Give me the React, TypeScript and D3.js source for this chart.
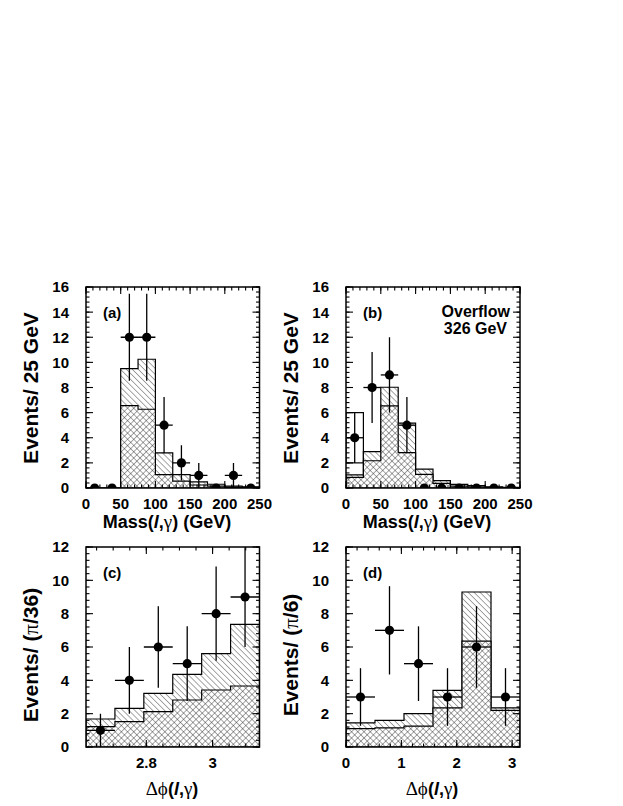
import React, { useEffect, useRef } from 'react';
import * as d3 from 'd3';

const W = 623;
const H = 806;
const PI = Math.PI;

// mass(l,gamma) bins, 25 GeV wide
const massBins = [0, 25, 50, 75, 100, 125, 150, 175, 200, 225];
const massTicks = [0, 50, 100, 150, 200, 250];

// panel (a)
const aData = [0, 0, 12, 12, 5, 2, 1, 0, 1, 0];
const aErr = [0, 0, 3.46, 3.46, 2.24, 1.41, 1, 0, 1, 0];
const aHatch = [0, 0, 9.5, 10.25, 2.8, 1.06, 0.48, 0.3, 0.15, 0.1];
const aCross = [0, 0, 6.55, 6.27, 1.06, 0.55, 0.24, 0.15, 0.08, 0.05];

// panel (b)
const bData = [4, 8, 9, 5, 0, 0, 0, 0, 0, 0];
const bErr = [2, 2.83, 3, 2.24, 0, 0, 0, 0, 0, 0];
const bHatch = [1.05, 2.9, 8.02, 5.17, 1.51, 0.58, 0.29, 0.2, 0.1, 0.05];
const bCross = [0.85, 2.17, 6.53, 2.81, 1.09, 0.37, 0.15, 0.1, 0.05, 0.03];
const bOpenLo = [2.0, 0, 0, 0, 0, 0, 0, 0, 0, 0];
const bOpenHi = [6.0, 0, 0, 0, 0, 0, 0, 0, 0, 0];

// delta phi bins: (c) pi/36 wide from 5pi/6, (d) pi/6 wide from 0
const cBins = [0, 1, 2, 3, 4, 5].map((i) => (5 * PI) / 6 + (i * PI) / 36);
const dBins = [0, 1, 2, 3, 4, 5].map((i) => (i * PI) / 6);
const cTicks = [2.8, 3];
const dTicks = [0, 1, 2, 3];

const cData = [1, 4, 6, 5, 8, 9];
const cErr = [1, 2, 2.45, 2.24, 2.83, 3];
const cHatch = [1.68, 2.32, 3.22, 4.36, 5.6, 7.36];
const cCross = [1.22, 1.52, 2.12, 2.82, 3.42, 3.66];

const dData = [3, 7, 5, 3, 6, 3];
const dErr = [1.73, 2.65, 2.24, 1.73, 2.45, 1.73];
const dHatch = [1.45, 1.6, 2.0, 3.4, 9.3, 2.35];
const dCross = [1.1, 1.15, 1.25, 2.35, 6.35, 2.2];

const massCounts = [0, 2, 4, 6, 8, 10, 12, 14, 16];
const phiCounts = [0, 2, 4, 6, 8, 10, 12];

const SANS = '"Liberation Sans", Arial, Helvetica, sans-serif';
const SERIF = '"Liberation Serif", "Times New Roman", serif';

type Panel = {
  id: string;
  box: [number, number, number, number]; // left, right, top, bottom
  xDomain: [number, number];
  yDomain: [number, number];
  bins: number[];
  binW: number;
  data: number[];
  err: number[];
  hatch: number[];
  cross: number[];
  openLo?: number[];
  openHi?: number[];
  xTicks: number[];
  xMinor: number;
  yTicks: number[];
  yMinor: number;
  tag: string;
};

const panels: Panel[] = [
  {
    id: 'a', box: [86, 259.5, 287, 488], xDomain: [0, 250], yDomain: [0, 16],
    bins: massBins, binW: 25, data: aData, err: aErr, hatch: aHatch, cross: aCross,
    xTicks: massTicks, xMinor: 10, yTicks: massCounts, yMinor: 0.4, tag: '(a)',
  },
  {
    id: 'b', box: [346, 520, 287, 488], xDomain: [0, 250], yDomain: [0, 16],
    bins: massBins, binW: 25, data: bData, err: bErr, hatch: bHatch, cross: bCross,
    openLo: bOpenLo, openHi: bOpenHi,
    xTicks: massTicks, xMinor: 10, yTicks: massCounts, yMinor: 0.4, tag: '(b)',
  },
  {
    id: 'c', box: [86, 259.5, 547, 747], xDomain: [(5 * PI) / 6, PI], yDomain: [0, 12],
    bins: cBins, binW: PI / 36, data: cData, err: cErr, hatch: cHatch, cross: cCross,
    xTicks: cTicks, xMinor: 0.05, yTicks: phiCounts, yMinor: 0.4, tag: '(c)',
  },
  {
    id: 'd', box: [346, 520, 547, 747], xDomain: [0, PI], yDomain: [0, 12],
    bins: dBins, binW: PI / 6, data: dData, err: dErr, hatch: dHatch, cross: dCross,
    xTicks: dTicks, xMinor: 0.2, yTicks: phiCounts, yMinor: 0.4, tag: '(d)',
  },
];

const multiples = (lo: number, hi: number, step: number) => {
  const out: number[] = [];
  for (let k = Math.ceil(lo / step - 1e-6); k * step <= hi + 1e-6; k++) out.push(k * step);
  return out;
};

function drawPanel(root: d3.Selection<SVGGElement, unknown, null, undefined>, p: Panel) {
  const [left, right, top, bottom] = p.box;
  const x = d3.scaleLinear().domain(p.xDomain).range([left, right]);
  const y = d3.scaleLinear().domain(p.yDomain).range([bottom, top]);
  const g = root.append('g');

  g.append('clipPath').attr('id', `clip-${p.id}`)
    .append('rect').attr('x', left).attr('y', top).attr('width', right - left).attr('height', bottom - top);
  const body = g.append('g').attr('clip-path', `url(#clip-${p.id})`);

  const step = (vals: number[]) => {
    const last = p.bins[p.bins.length - 1] + p.binW;
    let s = `M${x(p.bins[0])},${y(0)}`;
    vals.forEach((v, i) => {
      s += `L${x(p.bins[i])},${y(v)}L${x(p.bins[i] + p.binW)},${y(v)}`;
    });
    return s + `L${x(last)},${y(0)}Z`;
  };

  // total background, diagonal hatch
  body.append('path').attr('d', step(p.hatch)).attr('fill', 'url(#diag)')
    .attr('stroke', '#000').attr('stroke-width', 1.2);
  // inner component, cross hatch
  body.append('path').attr('d', step(p.cross)).attr('fill', '#fff');
  body.append('path').attr('d', step(p.cross)).attr('fill', 'url(#xhatch)')
    .attr('stroke', '#000').attr('stroke-width', 1.2);

  if (p.openLo && p.openHi) {
    p.openHi.forEach((hi, i) => {
      const lo = p.openLo![i];
      if (hi <= lo) return;
      body.append('rect')
        .attr('x', x(p.bins[i])).attr('width', x(p.bins[i] + p.binW) - x(p.bins[i]))
        .attr('y', y(hi)).attr('height', y(lo) - y(hi))
        .attr('fill', 'none').attr('stroke', '#000').attr('stroke-width', 1.2);
    });
  }

  // data points
  p.data.forEach((v, i) => {
    const cx = x(p.bins[i] + p.binW / 2);
    if (p.err[i] > 0) {
      body.append('line').attr('x1', cx).attr('x2', cx)
        .attr('y1', y(Math.max(0, v - p.err[i]))).attr('y2', y(v + p.err[i]))
        .attr('stroke', '#000').attr('stroke-width', 1.3);
      body.append('line').attr('x1', x(p.bins[i])).attr('x2', x(p.bins[i] + p.binW))
        .attr('y1', y(v)).attr('y2', y(v))
        .attr('stroke', '#000').attr('stroke-width', 1.3);
    }
    body.append('circle').attr('cx', cx).attr('cy', y(v)).attr('r', 4.6).attr('fill', '#000');
  });

  // frame
  g.append('rect').attr('x', left).attr('y', top).attr('width', right - left).attr('height', bottom - top)
    .attr('fill', 'none').attr('stroke', '#000').attr('stroke-width', 1.5);

  const tickG = g.append('g').attr('stroke', '#000').attr('stroke-width', 1.1);
  const majLen = 7;
  const minLen = 3.5;
  const xMinors = multiples(p.xDomain[0], p.xDomain[1], p.xMinor);
  const yMinors = multiples(p.yDomain[0], p.yDomain[1], p.yMinor);
  const xt = (v: number, len: number) => {
    tickG.append('line').attr('x1', x(v)).attr('x2', x(v)).attr('y1', bottom).attr('y2', bottom - len);
    tickG.append('line').attr('x1', x(v)).attr('x2', x(v)).attr('y1', top).attr('y2', top + len);
  };
  const yt = (v: number, len: number) => {
    tickG.append('line').attr('y1', y(v)).attr('y2', y(v)).attr('x1', left).attr('x2', left + len);
    tickG.append('line').attr('y1', y(v)).attr('y2', y(v)).attr('x1', right).attr('x2', right - len);
  };
  xMinors.forEach((v) => xt(v, minLen));
  p.xTicks.forEach((v) => xt(v, majLen));
  yMinors.forEach((v) => yt(v, minLen));
  p.yTicks.forEach((v) => yt(v, majLen));

  const lab = g.append('g').attr('font-family', SANS).attr('font-weight', 'bold').attr('font-size', 15).attr('fill', '#000');
  p.xTicks.forEach((v) => {
    lab.append('text').attr('x', x(v)).attr('y', bottom + 21).attr('text-anchor', 'middle').text(d3.format('~g')(v));
  });
  p.yTicks.forEach((v) => {
    lab.append('text').attr('x', left - 17).attr('y', y(v)).attr('dy', '0.36em').attr('text-anchor', 'end').text(String(v));
  });

  g.append('text').attr('x', left + 17).attr('y', top + 31)
    .attr('font-family', SANS).attr('font-weight', 'bold').attr('font-size', 15).text(p.tag);
}

export default function App() {
  const svgRef = useRef<SVGSVGElement | null>(null);

  useEffect(() => {
    if (!svgRef.current) return;
    const svg = d3.select(svgRef.current);
    svg.selectAll('*').remove();

    const defs = svg.append('defs');
    const diag = defs.append('pattern').attr('id', 'diag').attr('patternUnits', 'userSpaceOnUse')
      .attr('width', 4.2).attr('height', 4.2).attr('patternTransform', 'rotate(-45)');
    diag.append('rect').attr('width', 4.2).attr('height', 4.2).attr('fill', '#fff');
    diag.append('line').attr('x1', 0).attr('y1', 0).attr('x2', 0).attr('y2', 4.2)
      .attr('stroke', '#222').attr('stroke-width', 0.8);
    const xh = defs.append('pattern').attr('id', 'xhatch').attr('patternUnits', 'userSpaceOnUse')
      .attr('width', 4.4).attr('height', 4.4).attr('patternTransform', 'rotate(45)');
    xh.append('line').attr('x1', 0).attr('y1', 0).attr('x2', 0).attr('y2', 4.4)
      .attr('stroke', '#222').attr('stroke-width', 0.8);
    xh.append('line').attr('x1', 0).attr('y1', 0).attr('x2', 4.4).attr('y2', 0)
      .attr('stroke', '#222').attr('stroke-width', 0.8);

    const root = svg.append('g');
    panels.forEach((p) => drawPanel(root, p));

    // overflow note in (b)
    const note = root.append('g').attr('font-family', SANS).attr('font-weight', 'bold').attr('font-size', 16).attr('text-anchor', 'end');
    note.append('text').attr('x', 510).attr('y', 317).text('Overflow');
    note.append('text').attr('x', 507).attr('y', 334).text('326 GeV');

    // axis titles
    const titles = root.append('g').attr('font-family', SANS).attr('font-weight', 'bold').attr('fill', '#000');
    const yTitle = (tx: number, ty: number, parts: [string, string?][]) => {
      const t = titles.append('text').attr('transform', `translate(${tx},${ty}) rotate(-90)`)
        .attr('text-anchor', 'middle').attr('font-size', 21);
      parts.forEach(([s, f]) => {
        const sp = t.append('tspan').text(s);
        if (f === 'sym') sp.attr('font-family', SERIF).attr('font-weight', 'normal');
      });
    };
    yTitle(38, 388, [['Events/ 25 GeV']]);
    yTitle(298, 388, [['Events/ 25 GeV']]);
    yTitle(38, 655, [['Events/ ('], ['\u03c0', 'sym'], ['/36)']]);
    yTitle(298, 655, [['Events/ ('], ['\u03c0', 'sym'], ['/6)']]);

    const xTitle = (tx: number, ty: number, parts: [string, string?][]) => {
      const t = titles.append('text').attr('x', tx).attr('y', ty).attr('text-anchor', 'middle').attr('font-size', 18);
      parts.forEach(([s, f]) => {
        const sp = t.append('tspan').text(s);
        if (f === 'sym') sp.attr('font-family', SERIF).attr('font-weight', 'normal').attr('font-size', 19);
        if (f === 'it') sp.attr('font-style', 'italic');
      });
    };
    const massParts: [string, string?][] = [['Mass('], ['l', 'it'], [','], ['\u03b3', 'sym'], [') (GeV)']];
    xTitle(167, 528, massParts);
    xTitle(427, 528, massParts);
    const phiParts: [string, string?][] = [['\u0394\u03d5', 'sym'], ['('], ['l', 'it'], [','], ['\u03b3', 'sym'], [')']];
    xTitle(172, 795, phiParts);
    xTitle(432, 795, phiParts);
  }, []);

  return (
    <svg
      ref={svgRef}
      width={W}
      height={H}
      style={{ position: 'absolute', left: 0, top: 0, background: '#fff' }}
    />
  );
}
